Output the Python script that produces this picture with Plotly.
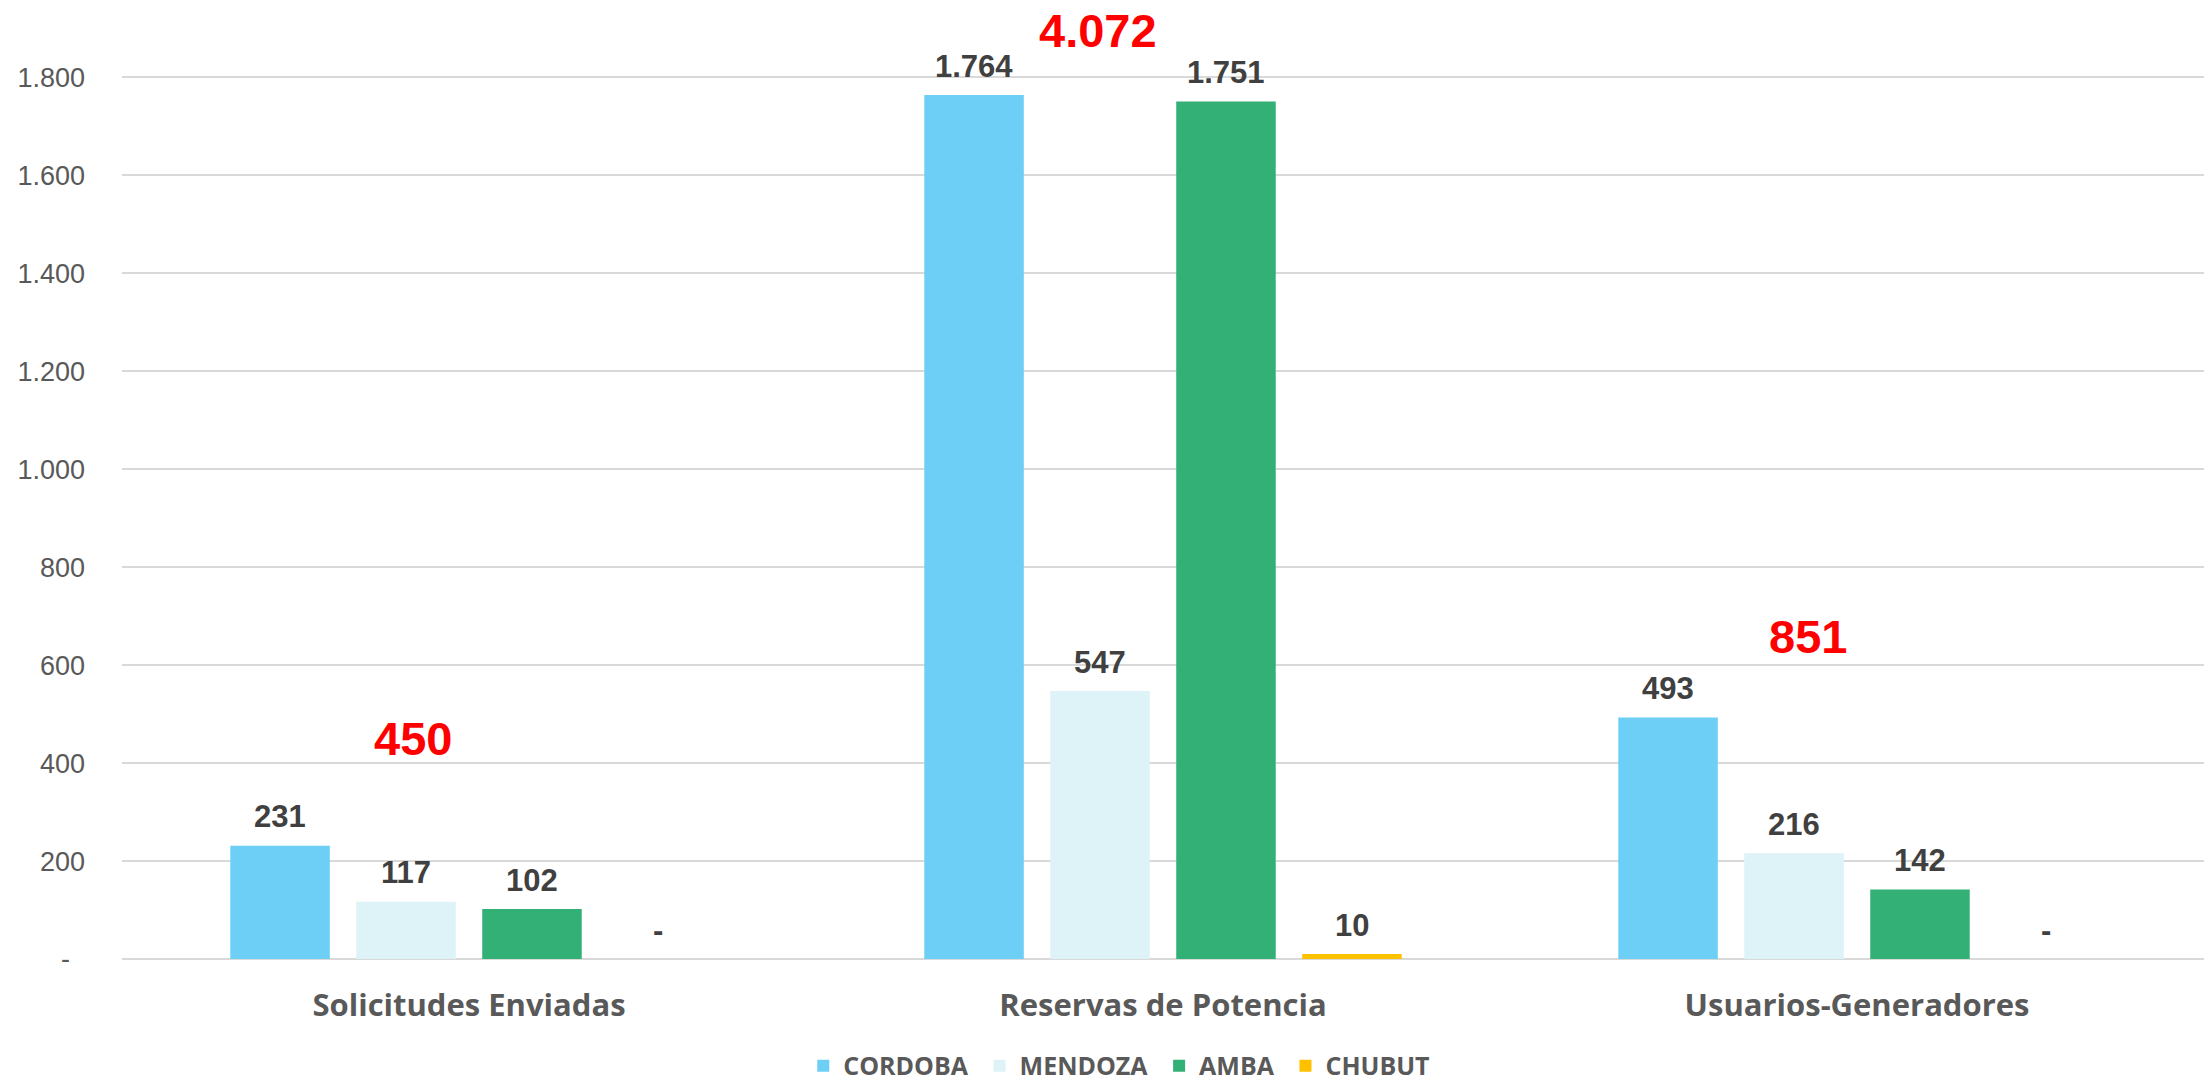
import plotly.graph_objects as go

categories = ["Solicitudes Enviadas", "Reservas de Potencia", "Usuarios-Generadores"]
series_names = ["CORDOBA", "MENDOZA", "AMBA", "CHUBUT"]
cordoba = [231, 1764, 493]
mendoza = [117, 547, 216]
amba = [102, 1751, 142]
chubut = [0, 10, 0]
totals = [450, 4072, 851]
tick_values = [0, 200, 400, 600, 800, 1000, 1200, 1400, 1600, 1800]
tick_labels = ["-", "200", "400", "600", "800", "1.000", "1.200", "1.400", "1.600", "1.800"]

colors = ["#6DCFF6", "#DDF3F8", "#33B075", "#FFC000"]

BARGAP = 0.274
BARGROUPGAP = 0.21


def fmt(v):
    if v == 0:
        return "-"
    return f"{v:,}".replace(",", ".")


fig = go.Figure()
all_series = [cordoba, mendoza, amba, chubut]
n = len(all_series)
slot = (1 - BARGAP) / n
for k, (name, vals, col) in enumerate(zip(series_names, all_series, colors)):
    legend_name = name + ("\u00a0" if k < n - 1 else "")
    fig.add_trace(go.Bar(
        name=legend_name, x=list(range(len(categories))), y=vals,
        marker=dict(color=col, line=dict(width=0)),
        hoverinfo="skip",
    ))
    off = -(1 - BARGAP) / 2 + slot * (k + 0.5)
    for i, v in enumerate(vals):
        fig.add_annotation(
            x=i + off, y=v, xref="x", yref="y", text=fmt(v), showarrow=False,
            xanchor="center", yanchor="middle", yshift=29,
            font=dict(family="Liberation Sans, Arial", size=31, color="#404040", weight="bold"),
        )

# total annotations (positions in data units, tuned to the reference)
total_pos = [(-0.08, 451), (-0.094, 1896), (-0.07, 659)]
for i, (t, (dx, yy)) in enumerate(zip(totals, total_pos)):
    fig.add_annotation(
        x=i + dx, y=yy, xref="x", yref="y", text=fmt(t), showarrow=False,
        font=dict(family="Liberation Sans, Arial", size=47, color="#FF0000", weight="bold"),
        xanchor="center", yanchor="middle",
    )

fig.update_layout(
    width=2208, height=1082,
    margin=dict(l=122, r=4, t=4, b=123, autoexpand=False),
    paper_bgcolor="white", plot_bgcolor="white",
    barmode="group", bargap=BARGAP, bargroupgap=BARGROUPGAP,
    showlegend=True,
    legend=dict(orientation="h", x=0.479, xanchor="center", y=-0.112, yanchor="middle",
                font=dict(family="Open Sans, Liberation Sans", size=25, color="#595959", weight="bold"),
                itemwidth=30, traceorder="normal"),
)
fig.update_xaxes(
    range=[-0.5, 2.5], tickvals=list(range(len(categories))), ticktext=categories,
    showgrid=False, showline=False, ticks="", zeroline=False,
    tickfont=dict(family="Open Sans, Liberation Sans", size=31, color="#595959", weight="bold"),
    ticklabelstandoff=25,
)
fig.update_yaxes(
    range=[0, 1950], tickvals=tick_values, ticktext=[t if t != "-" else "-\u00a0\u00a0" for t in tick_labels],
    showgrid=True, gridcolor="#D9D9D9", gridwidth=2, zeroline=True, zerolinecolor="#D9D9D9", zerolinewidth=2,
    showline=False, ticks="", ticklabelstandoff=36,
    tickfont=dict(family="Liberation Sans, Arial", size=27, color="#595959"),
)

fig.write_html("out.html", config={"displayModeBar": False},
               post_script="document.body.style.margin='0';")
